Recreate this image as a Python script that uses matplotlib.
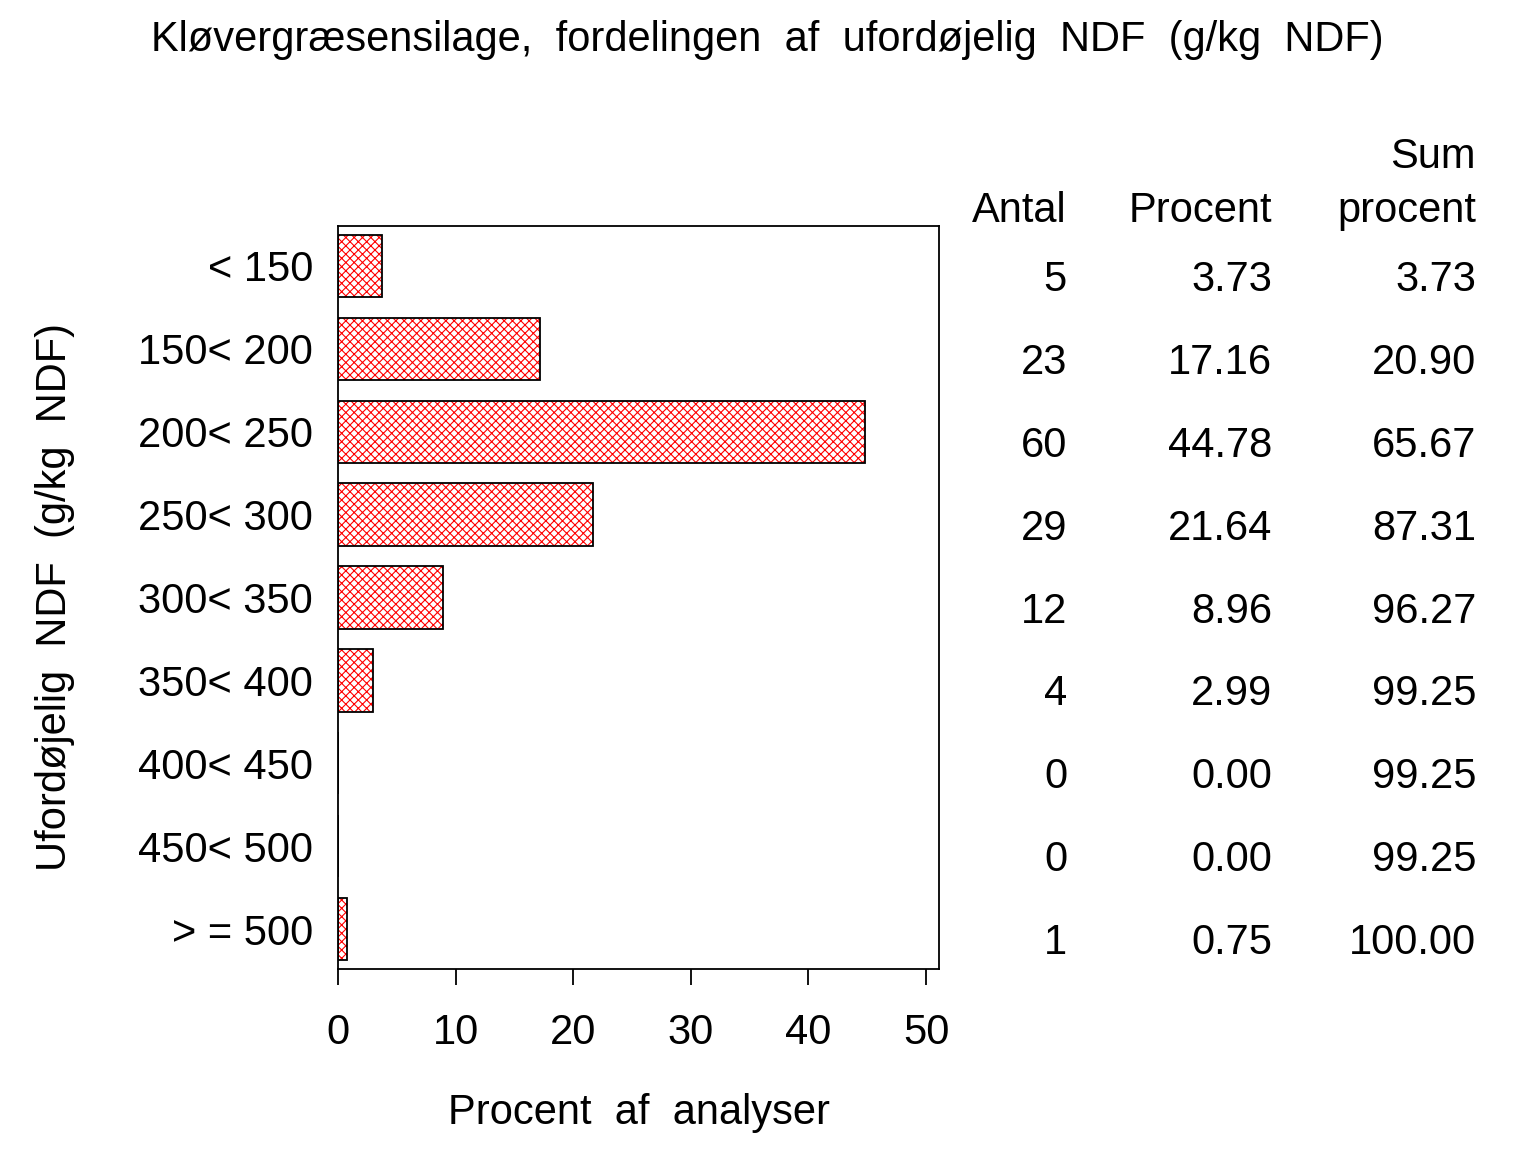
import matplotlib
matplotlib.use("Agg")
import matplotlib.pyplot as plt
import matplotlib.transforms as mtransforms
import numpy as np

categories = ["< 150", "150< 200", "200< 250", "250< 300", "300< 350",
              "350< 400", "400< 450", "450< 500", "> = 500"]
antal = [5, 23, 60, 29, 12, 4, 0, 0, 1]
procent = [3.73, 17.16, 44.78, 21.64, 8.96, 2.99, 0.00, 0.00, 0.75]
sum_procent = [3.73, 20.90, 65.67, 87.31, 96.27, 99.25, 99.25, 99.25, 100.00]
xticks = [0, 10, 20, 30, 40, 50]

title = "Kløvergræsensilage,  fordelingen  af  ufordøjelig  NDF  (g/kg  NDF)"
xlabel = "Procent  af  analyser"
ylabel = "Ufordøjelig  NDF  (g/kg  NDF)"

plt.rcParams['font.family'] = ['Liberation Sans', 'DejaVu Sans']
plt.rcParams['hatch.linewidth'] = 0.8
FS = 30

fig = plt.figure(figsize=(15.36, 11.52), dpi=100)
ax = fig.add_axes([338/1536, 1-969/1152, (939-338)/1536, (969-226)/1152])

y = np.arange(len(categories))
ax.barh(y, procent, height=0.75, color='white', edgecolor='red', hatch='xxxx', linewidth=0)
ax.barh(y, procent, height=0.75, fill=False, edgecolor='black', linewidth=1.3)

ax.set_ylim(len(categories) - 0.52, -0.48)
ax.set_xlim(0, 51.1)
ax.set_yticks(y)
ax.set_yticklabels(categories, fontsize=FS)
ax.tick_params(axis='y', length=0, pad=18)
ax.set_xticks(xticks)
ax.set_xticklabels([str(t) for t in xticks], fontsize=FS)
ax.tick_params(axis='x', direction='out', length=11.5, width=1.3, pad=20)
for s in ax.spines.values():
    s.set_linewidth(1.3)

ax.set_xlabel(xlabel, fontsize=FS, labelpad=29)
fig.text(55/1536, 1-597/1152, ylabel, fontsize=FS, rotation=90, ha='center', va='center')
fig.text(767/1536, 1-40/1152, title, fontsize=FS, ha='center', va='center')

# table, rows aligned with bars (slightly lower)
cols_x = [1067, 1272, 1476]
tr = mtransforms.offset_copy(ax.transData, fig=fig, x=0, y=-14*0.72, units='points')
blend = mtransforms.blended_transform_factory(fig.transFigure, tr)
for i in range(len(categories)):
    vals = [f"{antal[i]}", f"{procent[i]:.2f}", f"{sum_procent[i]:.2f}"]
    for cx, v in zip(cols_x, vals):
        fig.text(cx/1536, y[i], v, fontsize=FS, ha='right', va='center', transform=blend)

fig.text(1067/1536, 1-211/1152, "Antal", fontsize=FS, ha='right', va='center')
fig.text(1272/1536, 1-211/1152, "Procent", fontsize=FS, ha='right', va='center')
fig.text(1476/1536, 1-211/1152, "procent", fontsize=FS, ha='right', va='center')
fig.text(1476/1536, 1-157/1152, "Sum", fontsize=FS, ha='right', va='center')

fig.savefig("out.png", dpi=100, facecolor='white')
